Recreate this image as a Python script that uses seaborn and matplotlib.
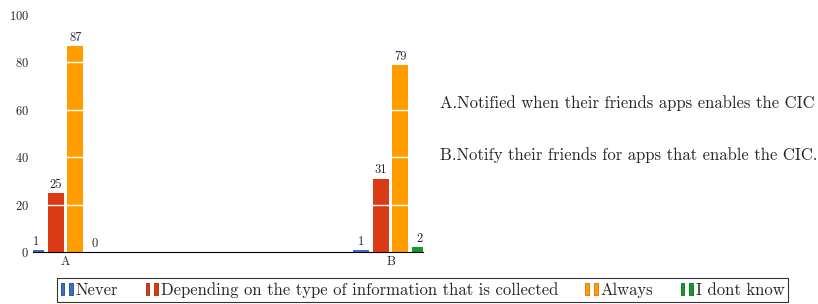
import pandas as pd
import matplotlib.pyplot as plt
import seaborn as sns
from matplotlib.patches import Patch
from matplotlib.legend_handler import HandlerTuple

# Data
questions = ['A', 'B']
answers = ['Never', 'Depending on the type of information that is collected', 'Always', 'I dont know']
never = [1, 1]
depending = [25, 31]
always = [87, 79]
dont_know = [0, 2]
colors = ['#3a6fc4', '#db3b14', '#ff9c00', '#129b2a']
edge_colors = ['#1f4a8f', '#9e2a0e', '#c77a00', '#0b6b1c']
descriptions = ['A.Notified when their friends apps enables the CIC',
                'B.Notify their friends for apps that enable the CIC.']

rows = []
for i, q in enumerate(questions):
    for ans, vals in zip(answers, [never, depending, always, dont_know]):
        rows.append({'question': q, 'answer': ans, 'count': vals[i]})
df = pd.DataFrame(rows)

sns.set_style('white')
plt.rcParams['font.family'] = ['cmr10', 'DejaVu Serif']
plt.rcParams['axes.formatter.use_mathtext'] = True

fig = plt.figure(figsize=(8.18, 3.04), dpi=100)
ax = fig.add_axes([0.0403, 0.171, 0.477, 0.780])

sns.barplot(data=df, x='question', y='count', hue='answer', hue_order=answers,
            palette=colors, width=0.24, gap=0.18, ax=ax, legend=False,
            saturation=1, zorder=2)

for cont in ax.containers:
    for bar in cont:
        bar.set_linewidth(0)
    ax.bar_label(cont, fontsize=9, padding=1.5)

# white grid lines drawn over the bars
for y in [20, 40, 60, 80]:
    ax.axhline(y, color='white', lw=1.0, zorder=3)

ax.set_xlim(-0.1, 1.1)
ax.set_ylim(0, 100)
ax.set_yticks([0, 20, 40, 60, 80, 100])
ax.tick_params(axis='both', length=0, labelsize=9, pad=3)
ax.set_xlabel('')
ax.set_ylabel('')
for s in ['top', 'right', 'left']:
    ax.spines[s].set_visible(False)
ax.spines['bottom'].set_color('black')
ax.spines['bottom'].set_linewidth(0.8)
ax.spines['bottom'].set_zorder(4)

# descriptions on the right
fig.text(0.538, 1 - 103 / 304, descriptions[0], fontsize=12, va='center', ha='left')
fig.text(0.538, 1 - 155 / 304, descriptions[1], fontsize=12, va='center', ha='left')

# legend with small double-bar icons
handles = []
for c, ec in zip(colors, edge_colors):
    p1 = Patch(facecolor=c, edgecolor=ec, lw=0.6)
    p2 = Patch(facecolor=c, edgecolor=ec, lw=0.6)
    handles.append((p1, p2))
leg = fig.legend(handles, answers, loc='center', bbox_to_anchor=(0.5165, 1 - 290 / 304),
                 ncol=4, frameon=True, fancybox=False, fontsize=12,
                 handler_map={tuple: HandlerTuple(ndivide=None, pad=0.3)},
                 handlelength=0.75, handleheight=0.8, handletextpad=0.15,
                 columnspacing=1.65, borderpad=0.22, borderaxespad=0)
leg.get_frame().set_edgecolor('black')
leg.get_frame().set_linewidth(0.8)

fig.savefig('out.png', dpi=100)
